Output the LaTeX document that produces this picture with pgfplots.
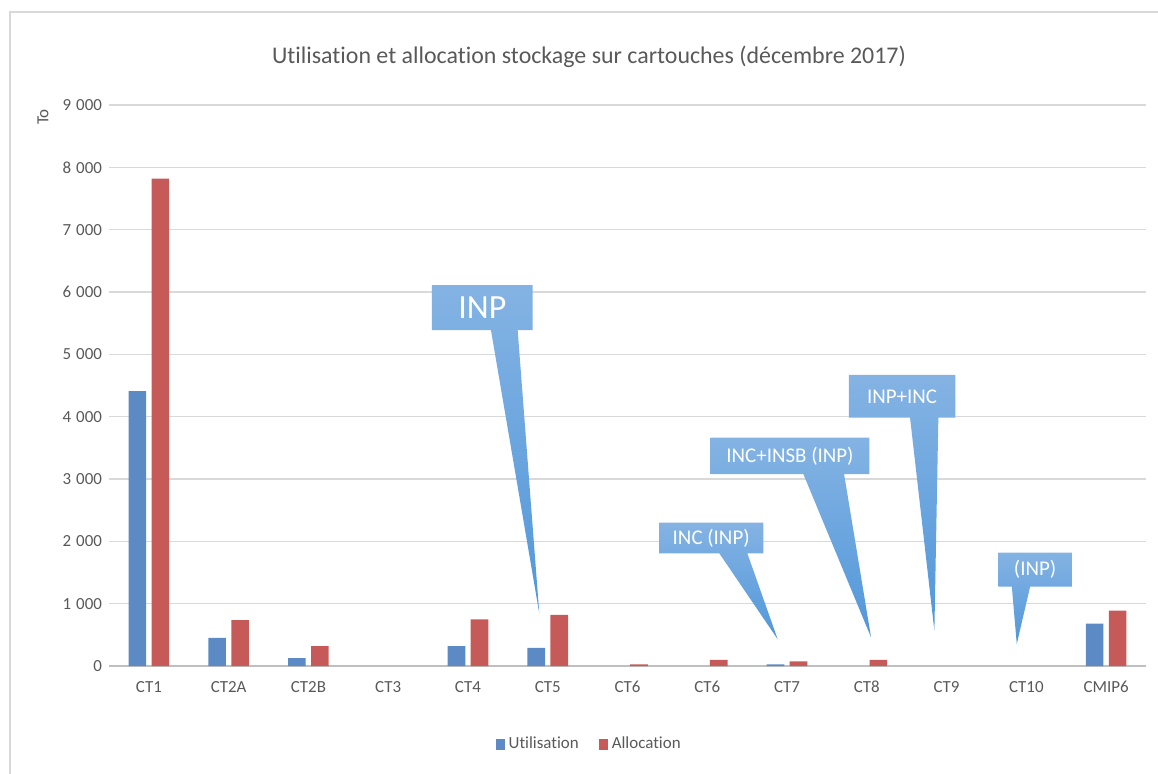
\documentclass[border=0pt]{standalone}
\usepackage{fontspec}
\setmainfont{Carlito}[Ligatures=NoCommon]
\usepackage{pgfplots}
\pgfplotsset{compat=1.18}
\definecolor{ublue}{HTML}{5B8AC5}
\definecolor{ared}{HTML}{C65A58}
\definecolor{txtgray}{HTML}{595959}
\definecolor{gridgray}{HTML}{D9D9D9}
\definecolor{axgray}{HTML}{BFBFBF}
\definecolor{ctop}{HTML}{84B3E3}
\definecolor{cbot}{HTML}{5197DA}
\pgfplotstableread{
x util
0 4410
1 450
2 125
4 320
5 290
8 25
12 680
}\utiltab
\pgfplotstableread{
x alloc
0 7820
1 735
2 320
4 750
5 820
6 25
7 100
8 75
9 100
12 890
}\alloctab
\newcommand{\ths}{\hspace{0.3em}}
\begin{document}
\begin{tikzpicture}
\path[use as bounding box] (0,0) rectangle (579bp,387bp);
\draw[gridgray, line width=0.75bp] (5bp,0) -- (5bp,381bp) -- (579bp,381bp);
\node[txtgray, font=\fontsize{12}{14}\selectfont] at (294.5bp,358.5bp) {Utilisation et allocation stockage sur cartouches (décembre 2017)};
\node[txtgray, rotate=90, font=\fontsize{8.5}{10}\selectfont] at (21.5bp,328.5bp) {To};
\begin{axis}[
 at={(54.5bp,54bp)}, anchor=south west,
 scale only axis, width=518.5bp, height=280.5bp,
 ybar=2.7bp, bar width=8.8bp,
 xmin=-0.5, xmax=12.5, ymin=0, ymax=9000,
 xtick={0,...,12},
 xticklabels={CT1,CT2A,CT2B,CT3,CT4,CT5,CT6,CT6,CT7,CT8,CT9,CT10,CMIP6},
 ytick={0,1000,2000,3000,4000,5000,6000,7000,8000,9000},
 yticklabels={0,1\ths000,2\ths000,3\ths000,4\ths000,5\ths000,6\ths000,7\ths000,8\ths000,9\ths000},
 ymajorgrids, grid style={gridgray, line width=0.75bp},
 axis x line*=bottom, axis y line*=left,
 x axis line style={axgray, line width=0.75bp, -},
 y axis line style={draw=none},
 major tick length=0pt,
 tick label style={txtgray, font=\fontsize{8.5}{10}\selectfont},
 xticklabel style={yshift=-4bp},
 clip=false,
 legend style={at={(0.464,-0.14)}, anchor=center, draw=none, fill=none,
   legend columns=2, font=\fontsize{8.5}{10}\selectfont, text=txtgray,
   /tikz/every even column/.append style={column sep=8bp}},
 legend image code/.code={\fill[#1] (0bp,-2.75bp) rectangle (4.5bp,2.75bp);},
]
\addplot[fill=ublue, draw=none] table[x=x, y=util] {\utiltab};
\addplot[fill=ared, draw=none] table[x=x, y=alloc] {\alloctab};
\legend{Utilisation, Allocation}
% callouts
\path[top color=ctop, bottom color=cbot]
 (3.549,6112) -- (4.811,6112) -- (4.811,5390) -- (4.623,5390) -- (4.894,845) -- (4.288,5390) -- (3.549,5390) -- cycle;
\node[white, font=\fontsize{17}{19}\selectfont] at (4.18,5751) {INP};
\path[top color=ctop, bottom color=cbot]
 (6.395,2299) -- (7.703,2299) -- (7.703,1808) -- (7.502,1808) -- (7.883,428) -- (7.151,1808) -- (6.395,1808) -- cycle;
\node[white, font=\fontsize{10.5}{12}\selectfont] at (7.049,2054) {INC (INP)};
\path[top color=ctop, bottom color=cbot]
 (7.043,3663) -- (9.032,3663) -- (9.032,3080) -- (8.715,3080) -- (9.053,460) -- (8.204,3080) -- (7.043,3080) -- cycle;
\node[white, font=\fontsize{10.5}{12}\selectfont] at (8.037,3372) {INC+INSB (INP)};
\path[top color=ctop, bottom color=cbot]
 (8.774,4669) -- (10.110,4669) -- (10.110,3983) -- (9.897,3983) -- (9.847,566) -- (9.542,3983) -- (8.774,3983) -- cycle;
\node[white, font=\fontsize{10.5}{12}\selectfont] at (9.442,4326) {INP+INC};
\path[top color=ctop, bottom color=cbot]
 (10.649,1818) -- (11.570,1818) -- (11.570,1272) -- (11.047,1272) -- (10.880,353) -- (10.818,1272) -- (10.649,1272) -- cycle;
\node[white, font=\fontsize{10.5}{12}\selectfont] at (11.11,1545) {(INP)};
\end{axis}
\end{tikzpicture}
\end{document}
